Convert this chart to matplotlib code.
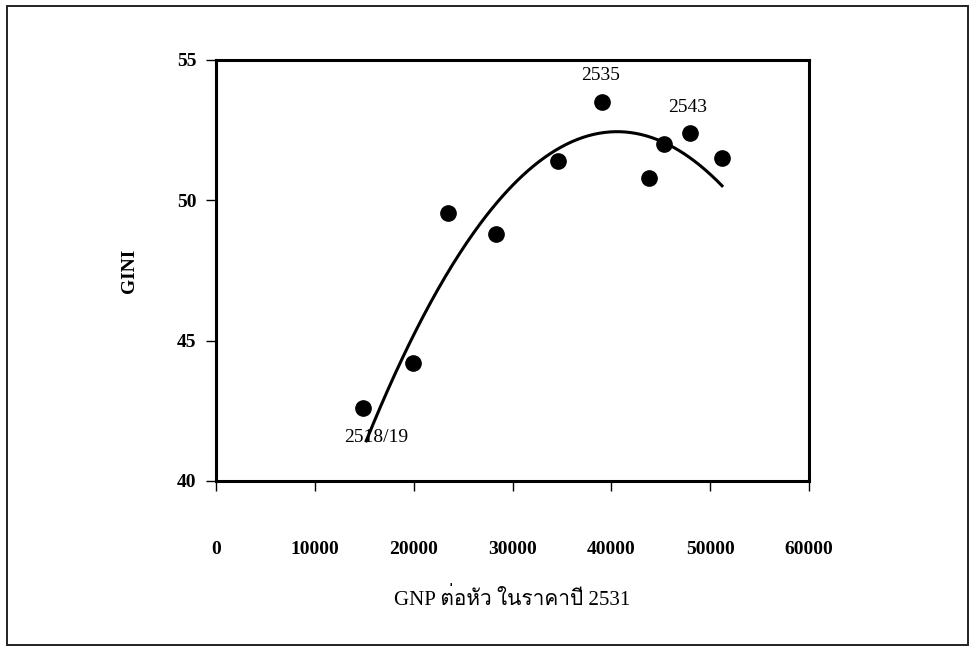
import numpy as np
import matplotlib
matplotlib.use('Agg')
import matplotlib.pyplot as plt
from matplotlib import font_manager
from matplotlib.patches import Rectangle
from fontTools.ttLib import TTFont

# ข้อมูล GNP ต่อหัว และ GINI
gnp = [14900, 19950, 23500, 28350, 34650, 39100, 43850, 45350, 48000, 51150]
gini = [42.6, 44.2, 49.55, 48.8, 51.4, 53.5, 50.8, 52.0, 52.4, 51.5]
point_labels = {0: '2518/19', 5: '2535', 8: '2543'}
x_ticks = [0, 10000, 20000, 30000, 40000, 50000, 60000]
y_ticks = [40, 45, 50, 55]

# จุดบนเส้นแนวโน้ม (อ่านจากภาพ)
trend_x = [15200, 26400, 30760, 40400, 45330, 51200]
trend_y = [41.46, 48.9, 50.85, 52.5, 52.05, 50.5]


def find_thai_font():
    # หาฟอนต์ที่มีอักษรไทย
    for f in font_manager.fontManager.ttflist:
        try:
            cmap = TTFont(f.fname, fontNumber=0, lazy=True).getBestCmap()
        except Exception:
            continue
        if cmap and 0x0E15 in cmap:
            return f.name
    return None


thai = find_thai_font()
serif = ['Liberation Serif', 'DejaVu Serif']
label_family = ['Liberation Serif'] + ([thai] if thai else []) + ['DejaVu Sans']

plt.rcParams['font.family'] = serif

fig = plt.figure(figsize=(9.73, 6.49), dpi=100)
ax = fig.add_axes([216 / 973, 1 - 481 / 649, 593 / 973, 421 / 649])

# กรอบด้านนอก
fig.patches.append(Rectangle((7 / 973, 1 - 645 / 649), 961 / 973, 639 / 649,
                             transform=fig.transFigure, fill=False,
                             edgecolor='#222222', linewidth=1.4))

# จุดข้อมูล
ax.plot(gnp, gini, 'o', color='black', markersize=11, zorder=3)

# เส้นแนวโน้มแบบพหุนามกำลังสอง
coef = np.polyfit(trend_x, trend_y, 2)
xs = np.linspace(min(trend_x), max(trend_x), 200)
ax.plot(xs, np.polyval(coef, xs), color='black', linewidth=2.2)

# ป้ายปี
offsets = {0: (9, -21), 5: (-1, 19), 8: (-2, 18)}
for i, txt in point_labels.items():
    ax.annotate(txt, (gnp[i], gini[i]), xytext=offsets[i], textcoords='offset points',
                ha='center', va='center', fontsize=14)

ax.set_xlim(0, 60000)
ax.set_ylim(40, 55)
ax.set_xticks(x_ticks)
ax.set_yticks(y_ticks)
ax.set_xticklabels([str(v) for v in x_ticks], fontsize=14, fontweight='bold')
ax.set_yticklabels([str(v) for v in y_ticks], fontsize=14, fontweight='bold')
ax.tick_params(axis='x', direction='out', length=7, width=1, pad=36)
ax.tick_params(axis='y', direction='out', length=7, width=1, pad=7)

for s in ax.spines.values():
    s.set_linewidth(2.2)

ax.set_ylabel('GINI', fontsize=14, fontweight='bold', labelpad=28)
ax.set_xlabel('GNP ต่อหัว ในราคาปี 2531', fontsize=15, family=label_family, labelpad=22)

plt.savefig('out.png', dpi=100)
